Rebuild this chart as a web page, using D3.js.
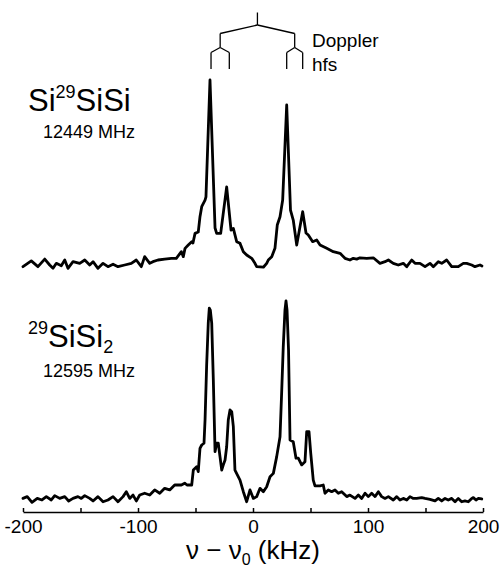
<!DOCTYPE html>
<html><head><meta charset="utf-8">
<script src="https://cdn.jsdelivr.net/npm/d3@7"></script>
<style>body{margin:0;background:#fff}svg{display:block}text{font-family:"Liberation Sans",Arial,Helvetica,sans-serif;fill:#000}</style>
</head><body><svg id="c" width="504" height="576"></svg>
<script>
// Frequency offsets (kHz) and relative intensities, Si29SiSi (12449 MHz)
const freqTop = [-200,-192.8,-187,-181.1,-176.8,-173.9,-171,-166.7,-163.7,-160.9,-156.5,-150.7,-146.3,-142,-139.1,-134.8,-130.4,-126.1,-121.7,-117.4,-111.6,-105.8,-101.5,-97.1,-94.2,-89.8,-87,-82.6,-76.8,-71,-66.7,-62.3,-60.6,-59.1,-56.3,-53.3,-52.2,-50.4,-47.6,-46.1,-44.6,-41.7,-40.9,-37.4,-33,-31.6,-28.1,-22.9,-19.1,-17.1,-14.2,-11.3,-8.4,-5.5,-1.1,1.7,3.2,9,11.9,13.3,16.3,19.1,21.1,23.5,25.8,29.3,32.6,35,38,43.2,46.1,48.1,51.9,55.4,58.3,64.1,69.8,75.7,80,84.3,87.2,90.2,93,98.9,104.6,110.4,114.8,117.7,122,126.3,130.7,133.7,138,140.9,145.2,149.6,153.9,156.8,161.1,164.1,168.4,172.8,178.5,182.9,185.8,190.2,193,197.4,199.1];
const intTop = [-0.9,2.2,-0.9,3.2,0,-1.8,0.9,-0.4,2.7,-1.8,1.8,0.9,2.7,0,1.8,-1.8,0.9,-0.9,0.4,-0.9,0,0.9,2.7,-0.9,4.5,0.9,1.8,2.7,3.2,3.6,3.6,7.2,4.5,9,10.8,12.6,11.9,17.1,17.8,26.1,31.5,35.1,36.8,100,20,17.1,17.1,42.2,18.9,19.8,12.6,11.7,7.2,5.4,3.6,0.9,-0.9,-1.2,0.9,2.7,4.5,9,21.6,26.1,35.1,86.5,29.7,24.3,10.8,28.8,17.3,16.2,12.6,13.5,10.8,9,7.2,6.3,3.6,2.7,3.6,3.2,3.9,3.6,3.9,0.9,1.8,2.7,0.9,0,0.9,-0.9,2.7,0.9,0.9,-0.9,0.9,-0.9,1.8,0.9,2.7,-0.9,-0.9,0.9,0.9,0,-0.9,0,-0.5];
// 29SiSi2 (12595 MHz)
const freqBot = [-200,-196.3,-192.2,-187.6,-183.5,-179.7,-175.4,-172.4,-168.1,-163.7,-160.3,-156.5,-152.2,-149.3,-146.3,-142,-139.1,-134.8,-130.4,-126.1,-121.7,-117.4,-113,-110.2,-107.2,-104.3,-101.5,-98.5,-94.2,-89.8,-85.5,-81.1,-76.8,-72.4,-68.1,-62.3,-59.4,-57.4,-53.3,-51.9,-49,-47.6,-46.1,-44.6,-42.6,-41.7,-40.3,-38.9,-38,-37.1,-35.9,-34.5,-33,-31.6,-30.2,-28.7,-27.2,-25.8,-24.3,-22.9,-21.5,-20,-18.5,-17.1,-15.7,-11.3,-8.4,-5.5,-2.6,0.3,3.2,6.1,9,11.9,14.8,17.7,20.6,23.5,25,26.3,27.8,28.7,29.6,30.9,32.2,35,37.4,39.4,42.3,45.2,46.7,48.7,50.2,52.4,53.9,58.3,61.1,62.6,65.5,68.4,71.3,74.2,77.1,81.5,84.3,88.7,91.6,94.5,97.4,100.3,103.2,106.1,109,111.9,114.8,117.7,122,125,127.8,130.7,133.7,136.5,139.4,142.3,146.7,149.6,153.9,158.3,161.1,164.1,167,169.8,172.8,175.7,178.5,181.5,184.3,187.2,190.2,191.6,193.9,196,198.9];
const intBot = [-0.2,0.7,-2.2,-0.2,-1,0.7,-1,1.2,-0.2,0.7,-1.5,-0.2,0.7,-0.2,1.2,-0.2,-1.5,0.7,-1.9,-1,0.7,-1.9,0.7,3.2,-0.2,1.5,-1.5,1.5,2.4,1.5,4.1,2.4,4.9,4.1,6.6,6.6,7.5,6.6,6.6,14.2,15.9,13.4,25.2,26.9,27.8,39.6,67.5,88.8,96.4,95.4,88.8,59.9,23.5,27.8,27.8,21,14.2,16.8,19.3,26,39.6,44.7,43.8,36.2,14.2,9.1,3.2,-1.9,4.1,-0.2,0.7,4.9,3.2,5.7,10.8,12.5,21,31.1,54.8,76.6,95.4,100,95.4,75.1,29.4,28.6,20.2,20.2,16.8,18.4,33.7,33.7,22.8,9.1,6.2,6.2,6.6,2.4,4.1,3.2,4.1,2.4,3.2,0.7,1.5,-0.2,1.5,-0.2,2.4,0.7,2.4,0.7,3.2,0.7,-0.2,0.7,-1,0.7,-1,-0.2,-1,0.7,-0.2,-0.2,0.2,-0.2,-0.7,-1.5,-0.2,-1.5,-0.2,-1,-0.2,-1.9,-0.2,-1.9,-1.5,-1.9,-0.2,0.2,-1,-0.2,-0.5];
// Axis ticks
const xTicks = [-200,-150,-100,-50,0,50,100,150,200];
const xTickLabels = ["-200","","-100","","0","","100","","200"];
// hyperfine components (kHz) of the two Doppler components
const hfsPairs = [[-36.5,-20.6],[29.3,43.2]];

const svg = d3.select("#c");
const x = d3.scaleLinear().domain([-200,200]).range([23,483]);
const yTop = d3.scaleLinear().domain([0,100]).range([265,80]);
const yBot = d3.scaleLinear().domain([0,100]).range([498,301]);

function drawSpectrum(fr, it, y){
  const data = d3.zip(fr, it);
  const line = d3.line().x(d=>x(d[0])).y(d=>y(d[1]));
  svg.append("path").datum(data).attr("d", line)
    .attr("fill","none").attr("stroke","#000").attr("stroke-width",2.8)
    .attr("stroke-linejoin","round").attr("stroke-linecap","round");
}
drawSpectrum(freqTop, intTop, yTop);
drawSpectrum(freqBot, intBot, yBot);

// axis
const axis = d3.axisBottom(x).tickValues(xTicks).tickSizeInner(-4).tickSizeOuter(0)
  .tickPadding(8).tickFormat((d,i)=>xTickLabels[i]);
const gA = svg.append("g").attr("transform","translate(0,512)").call(axis);
gA.select(".domain").attr("stroke","#000").attr("stroke-width",1.5);
gA.selectAll(".tick line").attr("stroke","#000").attr("stroke-width",1.5);
gA.selectAll(".tick text").attr("font-size",19).attr("font-family",'"Liberation Sans",Arial,sans-serif').attr("fill","#000");

// axis title
const t = svg.append("text").attr("x",x(0)).attr("y",559).attr("text-anchor","middle").attr("font-size",26);
t.append("tspan").text("ν − ν");
t.append("tspan").attr("font-size",16).attr("dy",6).text("0");
t.append("tspan").attr("dy",-6).text("  (kHz)");

// hfs / Doppler tree
const centers = hfsPairs.map(p=>d3.mean(p));
const apex = d3.mean(centers);
const tree = svg.append("g").attr("stroke","#000").attr("stroke-width",1.3).attr("fill","none");
tree.append("line").attr("x1",x(apex)).attr("x2",x(apex)).attr("y1",12.5).attr("y2",25);
centers.forEach((c,i)=>{
  tree.append("line").attr("x1",x(apex)).attr("y1",25).attr("x2",x(c)).attr("y2",33.5);
  tree.append("line").attr("x1",x(c)).attr("x2",x(c)).attr("y1",33.5).attr("y2",47.5);
  hfsPairs[i].forEach(h=>{
    tree.append("line").attr("x1",x(c)).attr("y1",47.5).attr("x2",x(h)).attr("y2",52.5);
    tree.append("line").attr("x1",x(h)).attr("x2",x(h)).attr("y1",52.5).attr("y2",69);
  });
});
svg.append("text").attr("x",312).attr("y",47).attr("font-size",19).text("Doppler");
svg.append("text").attr("x",312).attr("y",71).attr("font-size",19).text("hfs");

// labels
const l1 = svg.append("text").attr("x",28).attr("y",111).attr("font-size",31);
l1.append("tspan").text("Si");
l1.append("tspan").attr("font-size",18).attr("dy",-13).text("29");
l1.append("tspan").attr("dy",13).text("SiSi");
svg.append("text").attr("x",43).attr("y",138).attr("font-size",18).text("12449 MHz");

const l2 = svg.append("text").attr("x",28).attr("y",347).attr("font-size",31);
l2.append("tspan").attr("font-size",18).attr("dy",-13).text("29");
l2.append("tspan").attr("dy",13).text("SiSi");
l2.append("tspan").attr("font-size",18).attr("dy",6).text("2");
svg.append("text").attr("x",43).attr("y",377).attr("font-size",18).text("12595 MHz");
</script></body></html>
